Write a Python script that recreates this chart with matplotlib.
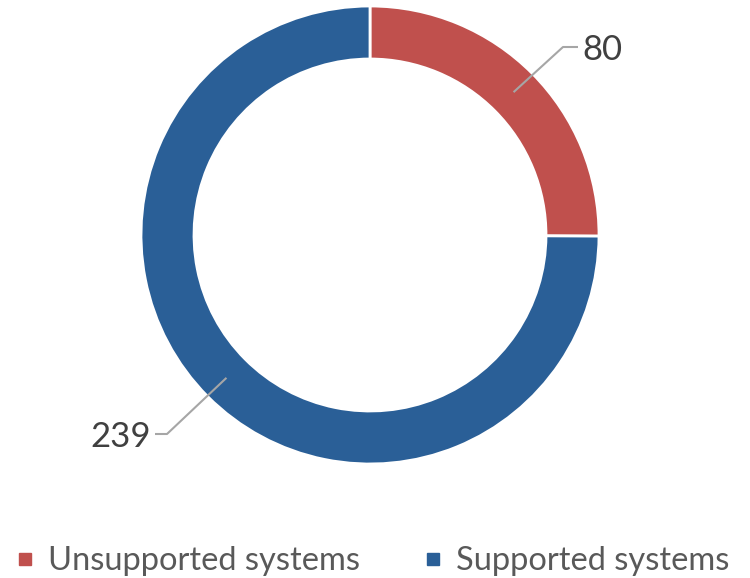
import matplotlib.pyplot as plt
import numpy as np
from matplotlib.lines import Line2D

plt.rcParams['font.family'] = ['Lato', 'DejaVu Sans']

categories = ['Unsupported systems', 'Supported systems']
counts = [80, 239]
colors = ['#C0504D', '#2A5F97']

# label placement: elbow point and text anchor, in pixels relative to the centre
elbows = [(193, 188), (-203, -199)]
tails = [15, -12]

fig = plt.figure(figsize=(7.5, 5.78), dpi=100)
ax = fig.add_axes([0, 0, 1, 1])

cx, cy = 370, 578 - 235
r_out, width = 229, 53

wedges, _ = ax.pie(counts, colors=colors, startangle=90, counterclock=False,
                   center=(cx, cy), radius=r_out, frame=True,
                   wedgeprops=dict(width=width, edgecolor='white', linewidth=2))
ax.set_xlim(0, 750)
ax.set_ylim(0, 578)
ax.set_aspect('equal')
ax.axis('off')

r_mid = r_out - width / 2
for w, n, (ex, ey), tail in zip(wedges, counts, elbows, tails):
    ang = np.deg2rad((w.theta1 + w.theta2) / 2)
    x0, y0 = cx + r_mid * np.cos(ang), cy + r_mid * np.sin(ang)
    x1, y1 = cx + ex, cy + ey
    x2 = x1 + tail
    ax.plot([x0, x1, x2], [y0, y1, y1], color='#A6A6A6', lw=1.5,
            solid_capstyle='butt')
    ha = 'left' if tail > 0 else 'right'
    ax.text(x2 + (4 if tail > 0 else -4), y1 - 3, str(n), ha=ha, va='center',
            fontsize=25, color='#404040')

handles = [Line2D([], [], marker='s', linestyle='none', markersize=8,
                  markerfacecolor=c, markeredgecolor=c) for c in colors]
leg = fig.legend(handles, categories, loc='lower center', ncol=2, frameon=False,
                 bbox_to_anchor=(0.495, -0.048), fontsize=23.5,
                 labelcolor='#595959', handletextpad=0.35, columnspacing=1.9,
                 handlelength=0.7)

fig.savefig('out.png', dpi=100)
